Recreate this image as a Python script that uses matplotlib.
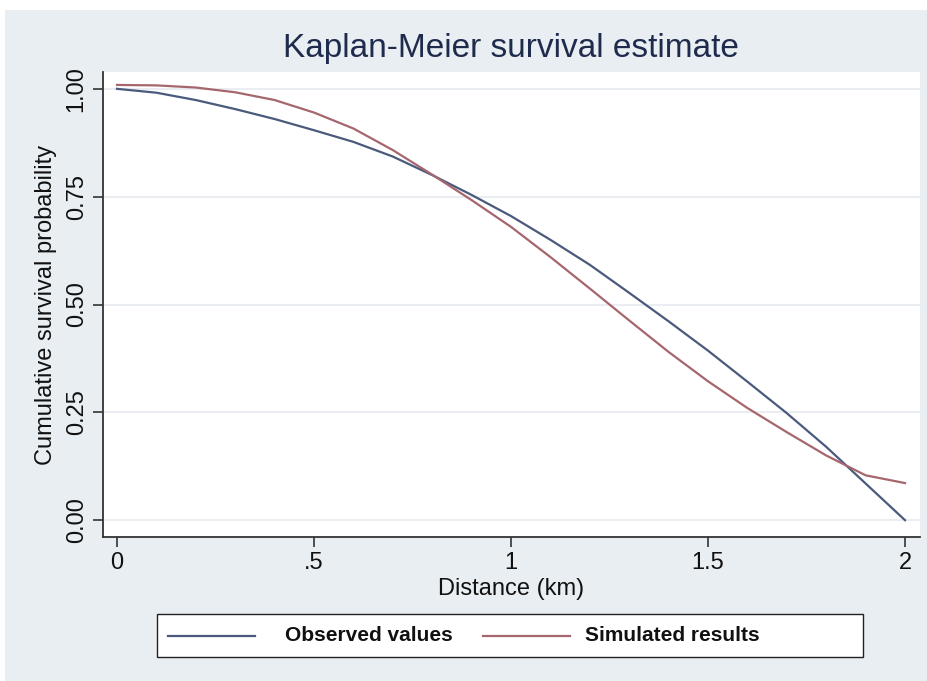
import matplotlib
matplotlib.use("Agg")
import matplotlib.pyplot as plt
from matplotlib.patches import Rectangle
from matplotlib.lines import Line2D

plt.rcParams['font.family'] = ['Liberation Sans', 'DejaVu Sans']

distance = [0.0, 0.1, 0.2, 0.3, 0.4, 0.5, 0.6, 0.7, 0.8, 0.9, 1.0,
            1.1, 1.2, 1.3, 1.4, 1.5, 1.6, 1.7, 1.8, 1.9, 2.0]
observed = [1.000, 0.991, 0.974, 0.953, 0.930, 0.904, 0.877, 0.843, 0.800, 0.754, 0.705,
            0.650, 0.592, 0.527, 0.461, 0.393, 0.321, 0.248, 0.170, 0.085, 0.000]
simulated = [1.009, 1.008, 1.003, 0.992, 0.974, 0.945, 0.908, 0.858, 0.801, 0.742, 0.680,
             0.610, 0.537, 0.463, 0.390, 0.322, 0.260, 0.204, 0.150, 0.104, 0.086]
series_labels = ["Observed values", "Simulated results"]
xticks = [0, 0.5, 1, 1.5, 2]
xticklabels = ["0", ".5", "1", "1.5", "2"]
yticks = [0.0, 0.25, 0.5, 0.75, 1.0]
yticklabels = ["0.00", "0.25", "0.50", "0.75", "1.00"]

c_obs = '#4a5a7c'
c_sim = '#a6666d'

W, H = 928, 681
fig = plt.figure(figsize=(W / 100, H / 100), dpi=100)
fig.patch.set_facecolor('white')
bg = Rectangle((5 / W, 0), 1 - 5 / W, 1 - 10 / H, transform=fig.transFigure,
               facecolor='#e9eef2', edgecolor='none', zorder=-10)
fig.patches.append(bg)

ax = fig.add_axes([103 / W, 1 - 537 / H, (920 - 103) / W, (537 - 72) / H])
ax.set_zorder(1)
ax.set_facecolor('white')
ax.set_xlim(-0.0355, 2.038)
ax.set_ylim(-0.039, 1.039)

for y in yticks:
    ax.axhline(y, color='#eaeef2', lw=1.5, zorder=1)

ax.plot(distance, observed, color=c_obs, lw=1.6, zorder=3)
ax.plot(distance, simulated, color=c_sim, lw=1.6, zorder=3)

for s in ['top', 'right']:
    ax.spines[s].set_visible(False)
for s in ['left', 'bottom']:
    ax.spines[s].set_color('#333333')
    ax.spines[s].set_linewidth(1.3)

ax.set_xticks(xticks)
ax.set_xticklabels(xticklabels)
ax.set_yticks(yticks)
ax.set_yticklabels(yticklabels, rotation=90, va='center')
ax.tick_params(axis='both', direction='out', length=7, width=1.2, color='#333333',
               labelsize=17, labelcolor='#111111')
ax.tick_params(axis='x', pad=4)
ax.tick_params(axis='y', pad=4)

ax.set_xlabel('Distance (km)', fontsize=17, color='#111111', labelpad=3)
ax.set_ylabel('Cumulative survival probability', fontsize=17, color='#111111', labelpad=6)

fig.text(511 / W, 1 - 48 / H, 'Kaplan-Meier survival estimate', ha='center', va='center',
         fontsize=24, color='#1f2b4d')

# legend box (manual layout to match the reference spacing)
box = Rectangle((157 / W, 1 - 657 / H), (863 - 157) / W, 43 / H, transform=fig.transFigure,
                facecolor='white', edgecolor='#222222', lw=1.0, zorder=2)
fig.patches.append(box)
ly = 1 - 635.5 / H
for (x0, x1, xt), col, lab in zip([(168, 255, 285), (483, 570, 585)], [c_obs, c_sim], series_labels):
    fig.add_artist(Line2D([x0 / W, x1 / W], [ly, ly], transform=fig.transFigure,
                          color=col, lw=1.6, zorder=3))
    fig.text(xt / W, ly, lab, ha='left', va='center', fontsize=15, fontweight='bold',
             color='#111111', zorder=3)

fig.savefig('out.png', dpi=100)
